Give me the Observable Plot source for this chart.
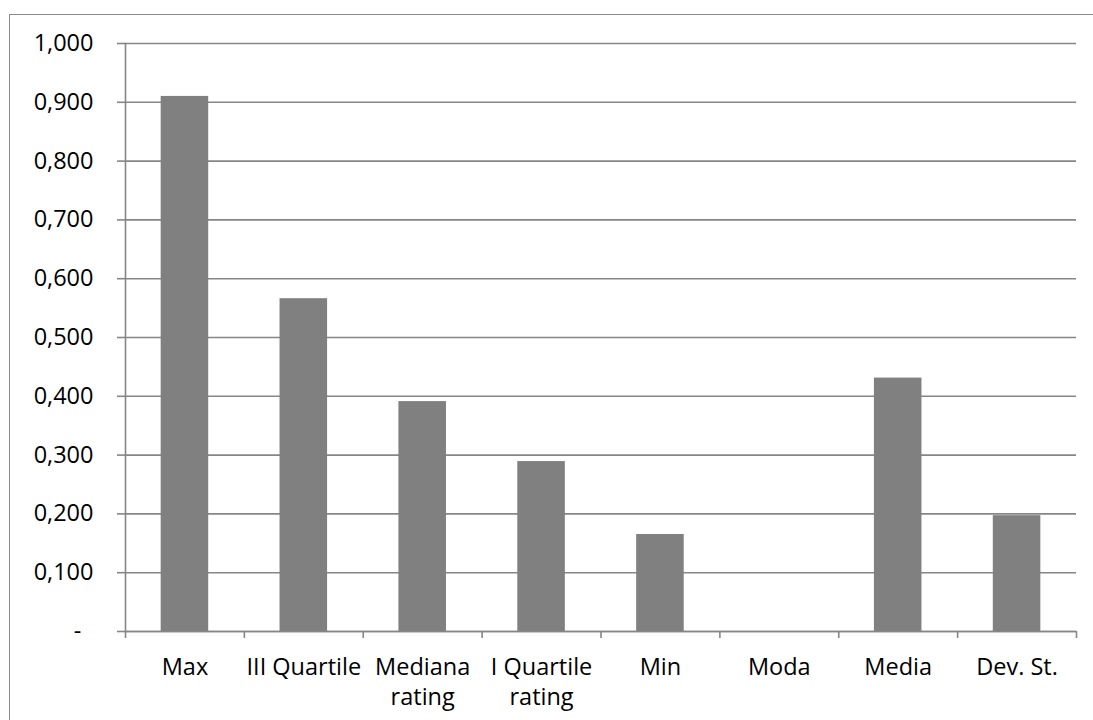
<!DOCTYPE html>
<html>
<head>
<meta charset="utf-8">
<script src="https://cdn.jsdelivr.net/npm/d3@7"></script>
<script src="https://cdn.jsdelivr.net/npm/@observablehq/plot@0.6"></script>
<style>
  html, body { margin: 0; padding: 0; background: #fff; overflow: hidden; }
  #wrap { position: relative; width: 1093px; height: 720px; }
  #border { position: absolute; left: 9px; top: 14px; width: 1200px; height: 800px;
            border: 1.5px solid #8a8a8a; box-sizing: border-box; pointer-events: none; }
  #chart { position: absolute; left: 0; top: 0; }
</style>
</head>
<body>
<div id="wrap"><div id="border"></div><div id="chart"></div></div>
<script>
const categories = ["Max", "III Quartile", "Mediana\nrating", "I Quartile\nrating", "Min", "Moda", "Media", "Dev. St."];
const values = [0.910, 0.566, 0.391, 0.289, 0.165, 0, 0.431, 0.197];
const yTicks = [0, 0.1, 0.2, 0.3, 0.4, 0.5, 0.6, 0.7, 0.8, 0.9, 1.0];

const data = categories.map((c, i) => ({category: c, value: values[i]}));

const W = 1093, H = 720;
const mL = 125, mR = 17, mT = 43, mB = 89;
const step = (W - mL - mR) / categories.length;
const grey = "#868686";
const font = "'Open Sans', sans-serif";
const fs = 23.5;

const fmt = d => d === 0 ? "-\u00a0\u00a0" : d.toFixed(3).replace(".", ",");

const plot = Plot.plot({
  width: W, height: H,
  marginLeft: mL, marginRight: mR, marginTop: mT, marginBottom: mB,
  style: {background: "none", fontFamily: font, fontSize: fs + "px", color: "#000", overflow: "visible"},
  x: {domain: categories, paddingInner: 0.6, paddingOuter: 0.3, round: false, label: null},
  y: {domain: [0, 1], ticks: yTicks, label: null},
  marks: [
    Plot.gridY(yTicks, {stroke: grey, strokeOpacity: 1, strokeWidth: 1.6}),
    Plot.axisY(yTicks, {tickSize: 8, tickPadding: 24, tickFormat: fmt, stroke: grey, strokeWidth: 1.6, fill: "#000", fontSize: fs, label: null}),
    Plot.barY(data, {x: "category", y: "value", fill: "#808080"}),
    Plot.frame({anchor: "left", stroke: grey, strokeWidth: 1.6}),
    Plot.ruleY([0], {stroke: grey, strokeWidth: 1.6}),
    Plot.axisX({tickSize: 7, dx: -step / 2, tickFormat: () => "", stroke: grey, strokeWidth: 1.6, label: null}),
    Plot.axisX([categories[categories.length - 1]], {tickSize: 7, dx: step / 2, tickFormat: () => "", stroke: grey, strokeWidth: 1.6, label: null}),
    Plot.axisX({tickSize: 0, tickPadding: 22, lineHeight: 1.28, fill: "#000", fontSize: fs, label: null})
  ]
});
document.getElementById("chart").appendChild(plot);
</script>
</body>
</html>
